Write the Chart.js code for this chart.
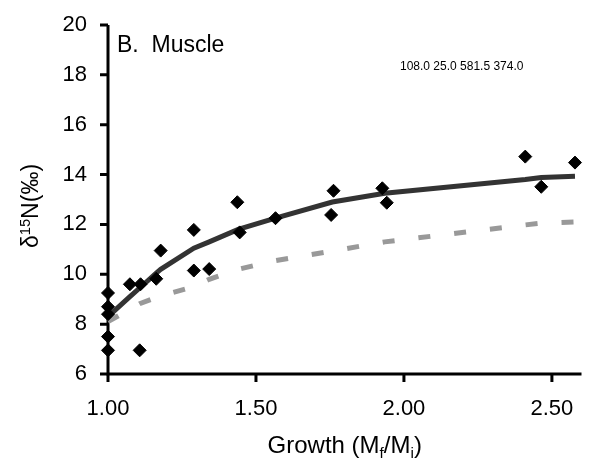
<!DOCTYPE html>
<html>
<head>
<meta charset="utf-8">
<script src="https://cdn.jsdelivr.net/npm/chart.js@4.4.1/dist/chart.umd.min.js"></script>
<style>
  html, body { margin: 0; padding: 0; background: #fff; }
  #wrap { width: 589px; height: 464px; }
</style>
</head>
<body>
<div id="wrap"><canvas id="muscleChart" width="589" height="464"></canvas></div>
<script>
// Observed points (growth Mf/Mi vs d15N)
const growthObs = [1.00, 1.00, 1.00, 1.00, 1.00, 1.074, 1.11, 1.107, 1.163, 1.178, 1.29, 1.342,
                   1.29, 1.437, 1.445, 1.566, 1.762, 1.754, 1.927, 1.942, 2.41, 2.464, 2.578];
const d15nObs   = [9.25, 8.7, 8.4, 7.5, 6.95, 9.6, 9.6, 6.95, 9.82, 10.95, 10.15, 10.21,
                   11.78, 12.89, 11.68, 12.25, 13.35, 12.38, 13.45, 12.87, 14.72, 13.51, 14.48];

// Model curves evaluated at the sampled growth values
const growthFit = [1.00, 1.074, 1.107, 1.163, 1.178, 1.29, 1.342, 1.44, 1.566, 1.758, 1.935, 2.41, 2.464, 2.578];
const solidFit  = [8.3, 9.1, 9.45, 10.05, 10.2, 11.05, 11.3, 11.8, 12.25, 12.9, 13.25, 13.8, 13.88, 13.93];
const dashedFit = [8.1, 8.6, 8.82, 9.07, 9.13, 9.5, 9.8, 10.2, 10.55, 10.93, 11.3, 11.98, 12.05, 12.1];

// Axis ticks
const xTicks = [1.0, 1.5, 2.0, 2.5];
const yTicks = [6, 8, 10, 12, 14, 16, 18, 20];

const FONT = '"Liberation Sans", Arial, sans-serif';
const TICK_LEN = 8;

function toPoints(xs, ys) {
    return xs.map((x, i) => ({ x: x, y: ys[i] }));
}

// Draw text runs with sub/superscripts, centred on the origin
function drawRuns(ctx, runs, size) {
    let total = 0;
    runs.forEach(r => {
        ctx.font = (r[1] ? size * 0.64 : size) + 'px ' + FONT;
        r.w = ctx.measureText(r[0]).width;
        total += r.w;
    });
    let x = -total / 2;
    runs.forEach(r => {
        ctx.font = (r[1] ? size * 0.64 : size) + 'px ' + FONT;
        const dy = r[1] === -1 ? 5 : (r[1] === 1 ? -8 : 0);
        ctx.fillText(r[0], x, dy);
        x += r.w;
    });
}

// Axis lines + outward tick marks, placed from the scales (drawn under the data)
const axesPlugin = {
    id: 'axes',
    beforeDatasetsDraw(chart) {
        const ctx = chart.ctx;
        const area = chart.chartArea;
        const xs = chart.scales.x;
        const ys = chart.scales.y;
        ctx.save();
        ctx.strokeStyle = '#000';
        ctx.lineWidth = 3;
        ctx.lineCap = 'butt';
        ctx.beginPath();
        ctx.moveTo(area.left, area.top);
        ctx.lineTo(area.left, area.bottom);
        ctx.lineTo(area.right, area.bottom);
        ctx.stroke();
        ctx.beginPath();
        ys.ticks.forEach(t => {
            const py = ys.getPixelForValue(t.value);
            ctx.moveTo(area.left - TICK_LEN, py);
            ctx.lineTo(area.left, py);
        });
        xs.ticks.forEach(t => {
            const px = xs.getPixelForValue(t.value);
            ctx.moveTo(px, area.bottom);
            ctx.lineTo(px, area.bottom + TICK_LEN);
        });
        ctx.stroke();
        ctx.restore();
    }
};

const labelsPlugin = {
    id: 'labels',
    afterDraw(chart) {
        const ctx = chart.ctx;
        const area = chart.chartArea;
        ctx.save();
        ctx.fillStyle = '#000';
        ctx.textBaseline = 'alphabetic';
        ctx.textAlign = 'left';

        // panel label
        ctx.font = '23px ' + FONT;
        ctx.fillText('B.  Muscle', area.left + 9, 52);

        // debug: chart area
        ctx.font = '12px ' + FONT;
        ctx.fillText([area.left, area.top, area.right, area.bottom].map(v => v.toFixed(1)).join(' '), 400, 70);

        // x axis title
        ctx.save();
        ctx.translate((area.left + area.right) / 2, 453);
        drawRuns(ctx, [['Growth (M', 0], ['f', -1], ['/M', 0], ['i', -1], [')', 0]], 24);
        ctx.restore();

        // y axis title
        ctx.save();
        ctx.translate(38, 206);
        ctx.rotate(-Math.PI / 2);
        drawRuns(ctx, [['\u03B4', 0], ['15', 1], ['N(\u2030)', 0]], 23);
        ctx.restore();

        ctx.restore();
    }
};

const ctx = document.getElementById('muscleChart').getContext('2d');
new Chart(ctx, {
    type: 'scatter',
    data: {
        datasets: [
            {
                label: 'Observed',
                data: toPoints(growthObs, d15nObs),
                pointStyle: 'rectRot',
                pointRadius: 6.5,
                backgroundColor: '#000',
                borderColor: '#000',
                borderWidth: 1,
                clip: false,
                order: 1
            },
            {
                label: 'Fit',
                data: toPoints(growthFit, solidFit),
                showLine: true,
                pointRadius: 0,
                borderColor: '#333333',
                borderWidth: 5,
                tension: 0,
                clip: false,
                order: 3
            },
            {
                label: 'Model',
                data: toPoints(growthFit, dashedFit),
                showLine: true,
                pointRadius: 0,
                borderColor: '#999999',
                borderWidth: 5,
                borderDash: [12, 24],
                borderCapStyle: 'butt',
                tension: 0,
                clip: false,
                order: 2
            }
        ]
    },
    options: {
        responsive: false,
        devicePixelRatio: 1,
        animation: false,
        layout: { padding: { top: 25, right: 0.5, left: 0, bottom: 0 } },
        plugins: {
            legend: { display: false },
            tooltip: { enabled: false }
        },
        scales: {
            x: {
                type: 'linear',
                min: 1.0,
                max: 2.6,
                afterBuildTicks: s => { s.ticks = xTicks.map(v => ({ value: v })); },
                afterFit: s => { s.height = 90; s.paddingLeft = 0; s.paddingRight = 0; },
                ticks: {
                    color: '#000',
                    font: { family: FONT, size: 22 },
                    padding: 6,
                    maxRotation: 0,
                    callback: v => Number(v).toFixed(2)
                },
                // grid lines hidden; tickLength only offsets the labels
                grid: { display: false, drawTicks: true, tickLength: 16 },
                border: { display: false }
            },
            y: {
                type: 'linear',
                min: 6,
                max: 20,
                afterBuildTicks: s => { s.ticks = yTicks.map(v => ({ value: v })); },
                afterFit: s => { s.width = 108; s.paddingTop = 0; s.paddingBottom = 0; },
                ticks: {
                    color: '#000',
                    font: { family: FONT, size: 22 },
                    padding: 9
                },
                grid: { display: false, drawTicks: true, tickLength: 12 },
                border: { display: false }
            }
        }
    },
    plugins: [axesPlugin, labelsPlugin]
});
</script>
</body>
</html>
